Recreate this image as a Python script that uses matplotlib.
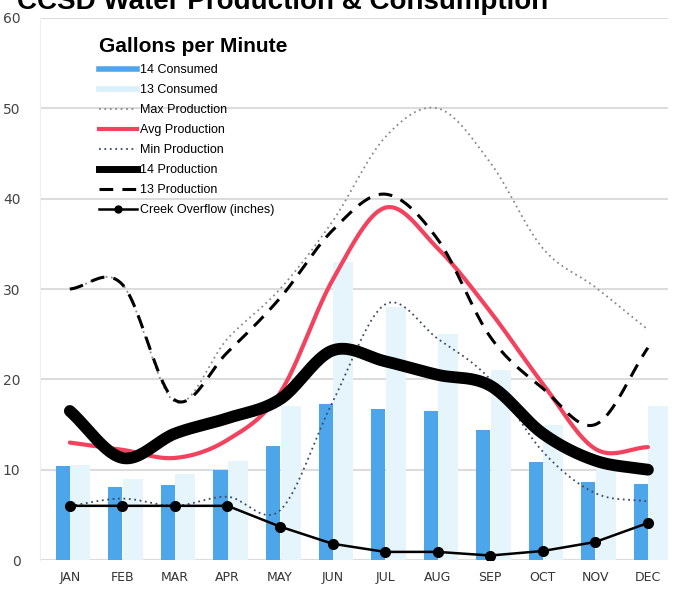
import numpy as np
import matplotlib
matplotlib.use("Agg")
import matplotlib.pyplot as plt
from matplotlib.lines import Line2D

months = ["JAN", "FEB", "MAR", "APR", "MAY", "JUN",
          "JUL", "AUG", "SEP", "OCT", "NOV", "DEC"]

consumed_14 = [10.4, 8.1, 8.3, 10.0, 12.6, 17.3, 16.7, 16.5, 14.4, 10.8, 8.6, 8.4]
consumed_13 = [10.5, 9.0, 9.5, 11.0, 17.0, 33.0, 28.0, 25.0, 21.0, 15.0, 11.0, 17.0]
max_prod = [30.0, 30.5, 17.5, 24.5, 30.0, 37.5, 46.8, 50.0, 44.0, 34.5, 30.2, 25.5]
avg_prod = [13.0, 12.2, 11.3, 13.3, 18.5, 31.0, 39.0, 34.5, 27.5, 19.5, 12.3, 12.5]
min_prod = [6.0, 6.8, 6.0, 7.0, 5.5, 17.5, 28.3, 24.5, 20.0, 12.0, 7.4, 6.5]
prod_14 = [16.5, 11.3, 14.0, 15.7, 17.8, 23.2, 22.0, 20.5, 19.3, 14.0, 11.0, 10.0]
prod_13 = [30.0, 30.5, 17.7, 23.0, 29.0, 36.5, 40.5, 35.5, 24.7, 19.0, 15.0, 23.5]
creek = [6.0, 6.0, 6.0, 6.0, 3.7, 1.8, 0.9, 0.9, 0.5, 1.0, 2.0, 4.1]

label_font = ["Liberation Sans Narrow", "DejaVu Sans"]


def smooth(x, y, n=24):
    # catmull-rom curve through the points, like the smoothed lines in excel
    x = np.asarray(x, float)
    y = np.asarray(y, float)
    xp = np.concatenate([[2 * x[0] - x[1]], x, [2 * x[-1] - x[-2]]])
    yp = np.concatenate([[2 * y[0] - y[1]], y, [2 * y[-1] - y[-2]]])
    t = np.linspace(0, 1, n, endpoint=False)[:, None]
    out = []
    for i in range(1, len(xp) - 2):
        p = np.array([[xp[i - 1], yp[i - 1]], [xp[i], yp[i]],
                      [xp[i + 1], yp[i + 1]], [xp[i + 2], yp[i + 2]]])
        seg = 0.5 * ((2 * p[1]) + (-p[0] + p[2]) * t
                     + (2 * p[0] - 5 * p[1] + 4 * p[2] - p[3]) * t ** 2
                     + (-p[0] + 3 * p[1] - 3 * p[2] + p[3]) * t ** 3)
        out.append(seg)
    out.append(np.array([[x[-1], y[-1]]]))
    out = np.vstack(out)
    return out[:, 0], out[:, 1]


fig = plt.figure(figsize=(6.76, 5.9), dpi=100)
ax = fig.add_axes([0.059, 0.0508, 0.929, 0.9187])

x = np.arange(len(months))

ax.bar(x + 0.2, consumed_13, width=0.38, color="#e6f5fc", zorder=2)
ax.bar(x - 0.133, consumed_14, width=0.27, color="#4ea6ea", zorder=3)

sx, sy = smooth(x, max_prod)
ax.plot(sx, sy, color="#8a8a8a", lw=1.3, ls=(0, (1, 2)), zorder=4)
sx, sy = smooth(x, min_prod)
ax.plot(sx, sy, color="#3c4a66", lw=1.3, ls=(0, (1, 2)), zorder=4)
sx, sy = smooth(x, avg_prod)
ax.plot(sx, sy, color="#f2425e", lw=3.0, solid_capstyle="round", zorder=5)
sx, sy = smooth(x, prod_13)
ax.plot(sx, sy, color="black", lw=2.2, ls=(0, (4.5, 3)), zorder=6)
sx, sy = smooth(x, prod_14)
ax.plot(sx, sy, color="black", lw=8.5, solid_capstyle="round", zorder=7)
ax.plot(x, creek, color="black", lw=1.8, marker="o", ms=7, zorder=8)

ax.set_xlim(-0.57, 11.38)
ax.set_ylim(0, 60)
ax.set_yticks(range(0, 61, 10))
ax.set_xticks(x)
ax.set_xticklabels(months, family=label_font, fontsize=9, color="#333333")
for lab in ax.get_yticklabels():
    lab.set_family(label_font)
    lab.set_fontsize(10)
    lab.set_color("#444444")
ax.tick_params(length=0, pad=8)
ax.tick_params(axis="y", pad=14)
ax.grid(axis="y", color="#dcdcdc", lw=1.5, zorder=0)
ax.set_axisbelow(True)
for s in ax.spines.values():
    s.set_visible(False)
ax.spines["left"].set_visible(True)
ax.spines["left"].set_color("#eeeeee")

handles = [
    Line2D([], [], color="#4ea6ea", lw=4),
    Line2D([], [], color="#d8f0fb", lw=4),
    Line2D([], [], color="#8a8a8a", lw=1.3, ls=(0, (1, 2))),
    Line2D([], [], color="#f2425e", lw=3),
    Line2D([], [], color="#3c4a66", lw=1.3, ls=(0, (1, 2))),
    Line2D([], [], color="black", lw=5),
    Line2D([], [], color="black", lw=2.2, ls=(0, (4.5, 3))),
    Line2D([], [], color="black", lw=1.8, marker="o", ms=5),
]
labels = ["14 Consumed", "13 Consumed", "Max Production", "Avg Production",
          "Min Production", "14 Production", "13 Production",
          "Creek Overflow (inches)"]
leg = ax.legend(handles, labels, loc="upper left",
                bbox_to_anchor=(93 / 676, 1 - 31 / 590),
                bbox_transform=fig.transFigure,
                frameon=False, fontsize=9, handlelength=3.0,
                handletextpad=0.3, labelspacing=0.64, borderpad=0,
                title="Gallons per Minute",
                title_fontproperties={"weight": "bold", "size": 15,
                                      "family": "Liberation Sans"})
leg._legend_box.align = "left"
for t in leg.get_texts():
    t.set_family("Liberation Sans")

fig.text(17 / 676, 1 - 9 / 590, "CCSD Water Production & Consumption",
         fontsize=20, fontweight="bold", family="Liberation Sans",
         va="baseline", ha="left")

fig.savefig("out.png", dpi=100)
